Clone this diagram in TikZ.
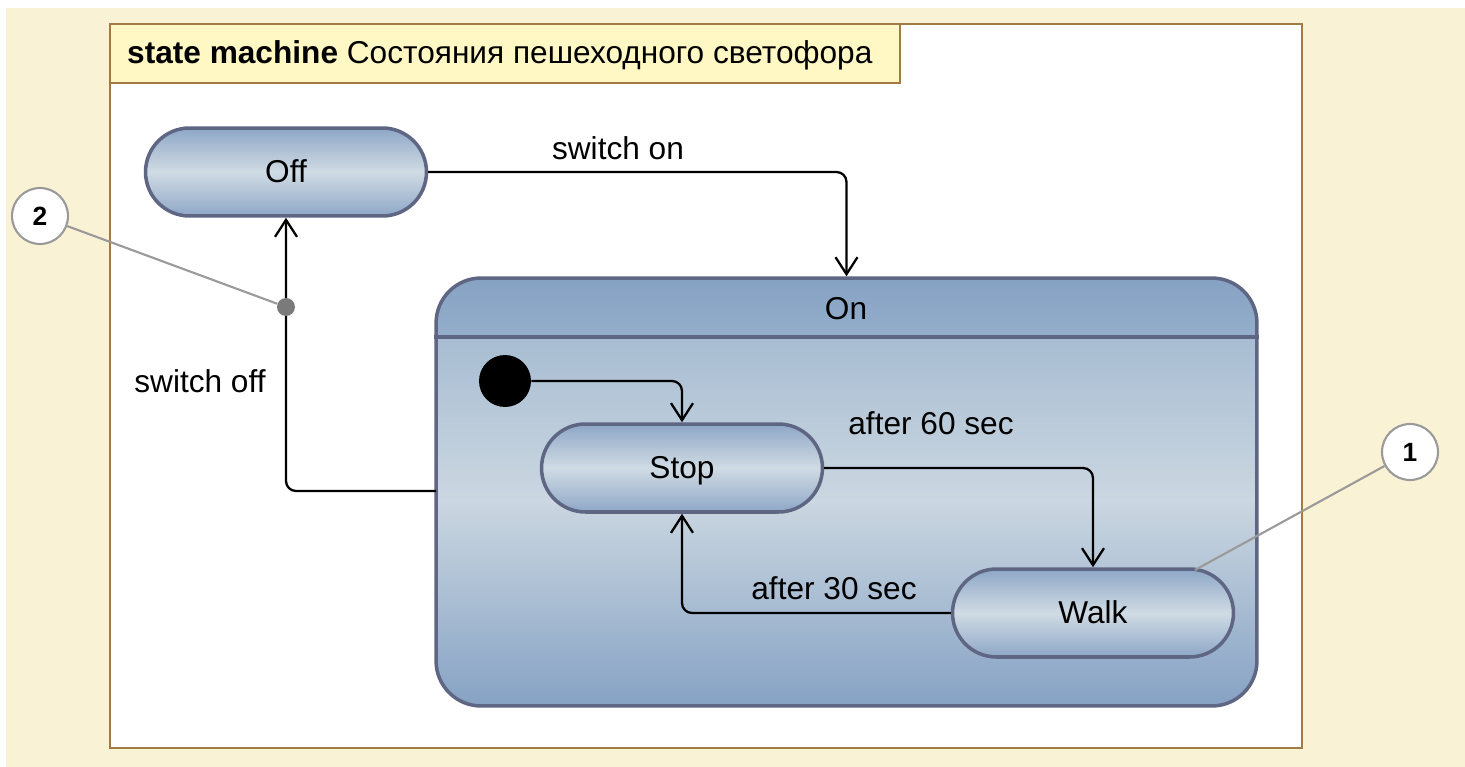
\documentclass[tikz,border=0pt]{standalone}
\usepackage{fontspec}
\setmainfont{Liberation Sans}
\usetikzlibrary{arrows.meta,shapes.misc,positioning}

\definecolor{bgcream}{HTML}{FAF2D4}
\definecolor{framebrown}{HTML}{A27A45}
\definecolor{headyellow}{HTML}{FFF8C4}
\definecolor{stateline}{HTML}{5E6683}
\definecolor{pilldark}{HTML}{8EA7C7}
\definecolor{pilllight}{HTML}{D0DBE4}
\definecolor{notegray}{HTML}{9A9A9A}
\definecolor{dotgray}{HTML}{7A7A7A}
\definecolor{onheadtop}{HTML}{86A2C3}
\definecolor{onheadbot}{HTML}{94AECB}
\definecolor{onbodytop}{HTML}{A8BDD2}
\definecolor{onbodymid}{HTML}{CBD7E1}
\definecolor{onbodybot}{HTML}{86A2C4}

\pgfdeclareverticalshading{onshade}{100bp}{color(0bp)=(onbodybot); color(25bp)=(onbodybot); color(49bp)=(onbodymid); color(67.9bp)=(onbodytop); color(68.1bp)=(onheadbot); color(75bp)=(onheadtop); color(100bp)=(onheadtop)}

\tikzset{
  state/.style={rounded rectangle, draw=stateline, line width=2pt, top color=pilldark, bottom color=pilldark, middle color=pilllight, minimum width=5.62cm, minimum height=1.76cm, inner sep=0pt, text depth=0.1em, font=\fontsize{18}{21}\selectfont},
  trans/.style={draw, line width=1.3pt, rounded corners=0.2cm, -{Straight Barb[length=0.34cm,width=0.44cm,line width=1.3pt]}},
  lbl/.style={font=\fontsize{18}{21}\selectfont},
  note/.style={circle, draw=notegray, fill=white, line width=1.2pt, minimum size=1.12cm, inner sep=0pt, font=\bfseries\fontsize{15}{18}\selectfont},
  noteline/.style={draw=notegray, line width=1.2pt},
}

\begin{document}
\begin{tikzpicture}[x=0.02cm,y=-0.02cm]
\useasboundingbox (0,0) rectangle (1465,767);
\fill[bgcream] (6,8) rectangle (1465,767);

\node (frame) [draw=framebrown, fill=white, line width=1.2pt, minimum width=23.84cm, minimum height=14.48cm] at (706,386) {};
\node (header) [draw=framebrown, fill=headyellow, line width=1.2pt, minimum width=15.8cm, minimum height=1.18cm] at (505,53.5) {};
\node (title) [anchor=west, font=\fontsize{18}{21}\selectfont] at (121,55) {\textbf{state machine} Состояния пешеходного светофора};

\node (on) [draw=stateline, line width=2pt, rounded corners=0.9cm, shading=onshade, minimum width=16.42cm, minimum height=8.56cm] at (846.5,492) {};
\draw[stateline, line width=2pt] (on.west |- 0,337) -- (on.east |- 0,337);
\node (onlbl) [lbl] at (846,309) {On};

\node (off) [state] at (286,172) {Off};
\node (stop) [state] at (682,468) {Stop};
\node (walk) [state] at (1093,613) {Walk};
\node (init) [circle, fill=black, minimum size=1.04cm, inner sep=0pt] at (505,381) {};

\coordinate (onexit) at (436,491);
\draw[trans] (off.east) -| (on.north);
\draw[trans] (init.east) -| (stop.north);
\draw[trans] (stop.east) -| (walk.north);
\draw[trans] (walk.west) -| (stop.south);
\draw[trans] (onexit) -| (off.south);

\node (swon) [lbl] at (618,148) {switch on};
\node (swoff) [lbl] at (200,381) {switch off};
\node (aft60) [lbl] at (931,423) {after 60 sec};
\node (aft30) [lbl] at (834,588) {after 30 sec};

\node (n2) [note] at (40,216) {2};
\node (d2) [circle, fill=dotgray, minimum size=0.36cm, inner sep=0pt] at (286,307) {};
\draw[noteline] (n2) -- (d2);

\node (n1) [note] at (1410,452) {1};
\coordinate (w1) at (1195,570);
\draw[noteline] (n1) -- (w1);
\end{tikzpicture}
\end{document}
